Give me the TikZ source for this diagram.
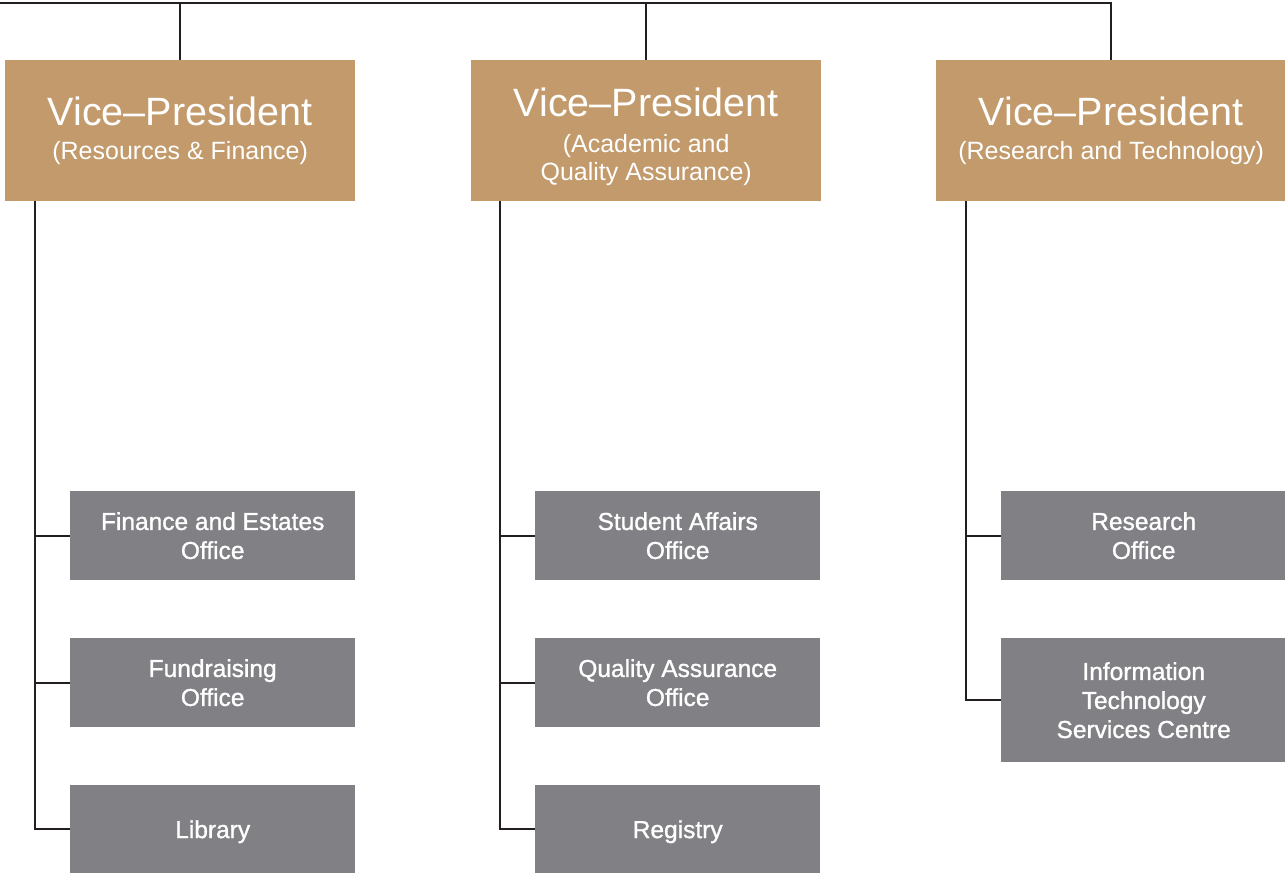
\documentclass[tikz,border=0pt]{standalone}
\usepackage{fontspec}
\setmainfont{Liberation Sans}
\newfontfamily\medfont[FakeBold=1.2]{Liberation Sans}
\definecolor{tan}{HTML}{C29A6B}
\definecolor{boxgray}{HTML}{808085}
\definecolor{linec}{HTML}{231F20}
\newcommand{\vptitle}{{\fontsize{39.5}{34}\selectfont Vice–President}}
\begin{document}
\begin{tikzpicture}[x=1pt,y=-1pt,
  vpfont/.style={text=white, align=center, inner sep=0pt, font=\fontsize{25}{28}\selectfont},
  vpbox/.style={fill=tan, vpfont, minimum width=350pt, minimum height=141pt, anchor=north west},
  subbox/.style={fill=boxgray, text=white, minimum width=285pt, inner sep=0pt, align=center, anchor=north west, font=\medfont\fontsize{24.5}{29}\selectfont},
  conn/.style={draw=linec, line width=2.4pt}]
\useasboundingbox (0,0) rectangle (1285,874);
% VP boxes
\node[vpbox] (vp1) at (5,60) {\vptitle\\[6pt](Resources \& Finance)};
\node[vpbox, label={[vpfont, yshift=-6pt]center:{\vptitle\\[8pt](Academic and\\Quality Assurance)}}] (vp2) at (471,60) {};
\node[vpbox] (vp3) at (936,60) {\vptitle\\[6pt](Research and Technology)};
% child boxes
\node[subbox, minimum height=89pt] (a1) at (70,491) {Finance and Estates\\Office};
\node[subbox, minimum height=89pt] (a2) at (70,638) {Fundraising\\Office};
\node[subbox, minimum height=88pt, text depth=0pt] (a3) at (70,785) {Library};
\node[subbox, minimum height=89pt] (b1) at (535,491) {Student Affairs\\Office};
\node[subbox, minimum height=89pt] (b2) at (535,638) {Quality Assurance\\Office};
\node[subbox, minimum height=88pt, text depth=0pt] (b3) at (535,785) {Registry};
\node[subbox, minimum height=89pt] (c1) at (1001,491) {Research\\Office};
\node[subbox, minimum height=124pt] (c2) at (1001,638) {Information\\Technology\\Services Centre};
% top connectors
\coordinate (tl) at (-10,3);
\draw[conn] (tl) -| (vp3.north);
\draw[conn] (tl -| vp1.north) -- (vp1.north);
\draw[conn] (tl -| vp2.north) -- (vp2.north);
% spines
\coordinate (s1) at (35,201);
\coordinate (s2) at (500,201);
\coordinate (s3) at (966,201);
\draw[conn] (s1) |- (a3.west);
\draw[conn] (s1 |- a1.west) -- (a1.west);
\draw[conn] (s1 |- a2.west) -- (a2.west);
\draw[conn] (s2) |- (b3.west);
\draw[conn] (s2 |- b1.west) -- (b1.west);
\draw[conn] (s2 |- b2.west) -- (b2.west);
\draw[conn] (s3) |- (c2.west);
\draw[conn] (s3 |- c1.west) -- (c1.west);
\end{tikzpicture}
\end{document}
